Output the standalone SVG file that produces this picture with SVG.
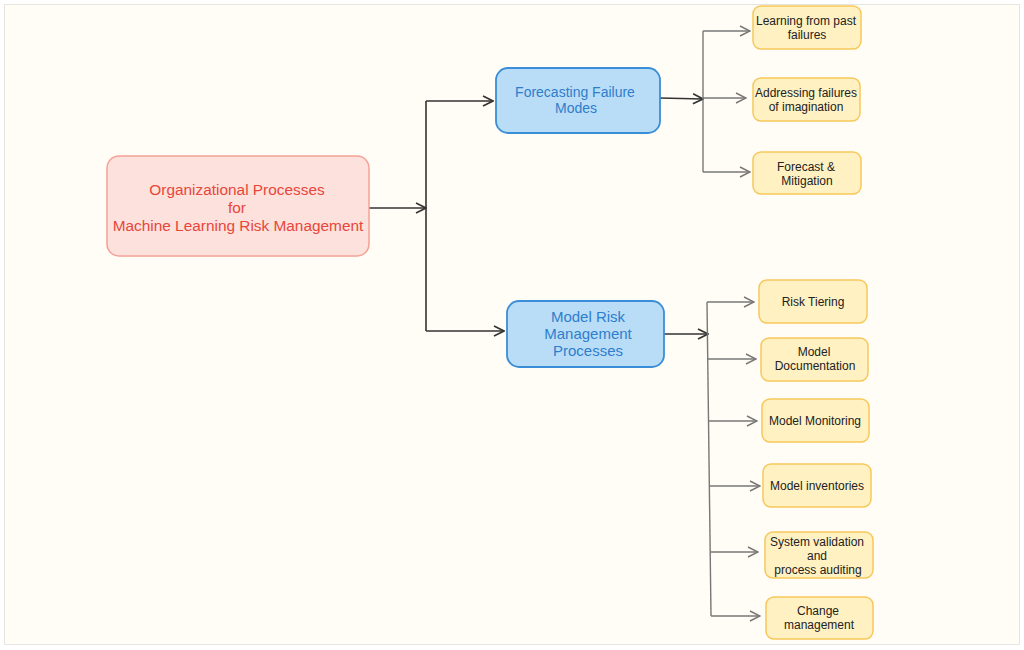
<svg xmlns="http://www.w3.org/2000/svg" width="1024" height="650" viewBox="0 0 1024 650">
<defs>
<marker id="ad" viewBox="0 0 12 12" refX="11" refY="6" markerWidth="12" markerHeight="12" markerUnits="userSpaceOnUse" orient="auto">
<path d="M1,1 L11,6 L1,11" fill="none" stroke="#333" stroke-width="1.6"/>
</marker>
<marker id="ag" viewBox="0 0 12 12" refX="11" refY="6" markerWidth="12" markerHeight="12" markerUnits="userSpaceOnUse" orient="auto">
<path d="M1,1 L11,6 L1,11" fill="none" stroke="#777" stroke-width="1.4"/>
</marker>
</defs>
<style>
text{font-family:"Liberation Sans",Arial,sans-serif;text-anchor:middle}
.root rect{fill:#fde1dc;stroke:#f4a197;stroke-width:1.5}
.root text{fill:#e8463b;font-size:15.4px}
.mid rect{fill:#b9ddf6;stroke:#3a8ed8;stroke-width:1.8}
.mid text{fill:#2f7dcc;font-size:14px}
.mid text.big{font-size:15px}
.leaf rect{fill:#fff1c2;stroke:#f6c85a;stroke-width:1.5}
.leaf text{fill:#222;font-size:12px}
.cd{fill:none;stroke:#333;stroke-width:1.6}
.cg{fill:none;stroke:#777;stroke-width:1.4}
</style>
<rect x="4.5" y="4.5" width="1015" height="640" fill="#fffdf5" stroke="#e6e6e0" stroke-width="1"/>
<g id="connectors">
<path class="cd" d="M369,208 L426,208" marker-end="url(#ad)"/>
<path class="cd" d="M426,101 L426,331"/>
<path class="cd" d="M426,101 L493,101" marker-end="url(#ad)"/>
<path class="cd" d="M426,331 L504,331" marker-end="url(#ad)"/>
<path class="cd" d="M660,98 L703,99" marker-end="url(#ad)"/>
<path class="cg" d="M703,31 L703,172"/>
<path class="cg" d="M703,31 L750,31" marker-end="url(#ag)"/>
<path class="cg" d="M703,98 L746,98" marker-end="url(#ag)"/>
<path class="cg" d="M703,172 L750,172" marker-end="url(#ag)"/>
<path class="cd" d="M664,334 L708,334" marker-end="url(#ad)"/>
<path class="cg" d="M707,302 L711,616"/>
<path class="cg" d="M707,302 L754,302" marker-end="url(#ag)"/>
<path class="cg" d="M708,359 L756,359" marker-end="url(#ag)"/>
<path class="cg" d="M708,421 L757,421" marker-end="url(#ag)"/>
<path class="cg" d="M710,486 L760,486" marker-end="url(#ag)"/>
<path class="cg" d="M710,552 L758,552" marker-end="url(#ag)"/>
<path class="cg" d="M711,616 L760,616" marker-end="url(#ag)"/>
</g>
<g id="root" class="root">
<rect x="107" y="156" width="262" height="100" rx="12"/>
<text x="237" y="195">Organizational Processes</text>
<text x="237" y="213">for</text>
<text x="238" y="231">Machine Learning Risk Management</text>
</g>
<g id="forecasting" class="mid">
<rect x="496" y="68" width="164" height="65" rx="12"/>
<text x="575" y="97">Forecasting Failure</text>
<text x="576" y="113">Modes</text>
</g>
<g id="mrm" class="mid">
<rect x="507" y="301" width="157" height="66" rx="12"/>
<text class="big" x="588" y="322">Model Risk</text>
<text class="big" x="588" y="339">Management</text>
<text class="big" x="588" y="356">Processes</text>
</g>
<g id="leaf1" class="leaf">
<rect x="753" y="6" width="108" height="43" rx="8"/>
<text x="806" y="25">Learning from past</text>
<text x="807" y="39">failures</text>
</g>
<g id="leaf2" class="leaf">
<rect x="753" y="78" width="107" height="43" rx="8"/>
<text x="806" y="97">Addressing failures</text>
<text x="806" y="111">of imagination</text>
</g>
<g id="leaf3" class="leaf">
<rect x="753" y="152" width="108" height="42" rx="8"/>
<text x="806" y="171">Forecast &amp;</text>
<text x="807" y="185">Mitigation</text>
</g>
<g id="leaf4" class="leaf">
<rect x="759" y="280" width="108" height="43" rx="8"/>
<text x="813" y="306">Risk Tiering</text>
</g>
<g id="leaf5" class="leaf">
<rect x="761" y="338" width="107" height="43" rx="8"/>
<text x="814" y="356">Model</text>
<text x="815" y="370">Documentation</text>
</g>
<g id="leaf6" class="leaf">
<rect x="762" y="399" width="107" height="43" rx="8"/>
<text x="815" y="425">Model Monitoring</text>
</g>
<g id="leaf7" class="leaf">
<rect x="763" y="464" width="108" height="43" rx="8"/>
<text x="817" y="490">Model inventories</text>
</g>
<g id="leaf8" class="leaf">
<rect x="765" y="532" width="108" height="46" rx="8"/>
<text x="817" y="546">System validation</text>
<text x="817" y="560">and</text>
<text x="818" y="574">process auditing</text>
</g>
<g id="leaf9" class="leaf">
<rect x="766" y="597" width="107" height="42" rx="8"/>
<text x="818" y="615">Change</text>
<text x="819" y="629">management</text>
</g>
</svg>
